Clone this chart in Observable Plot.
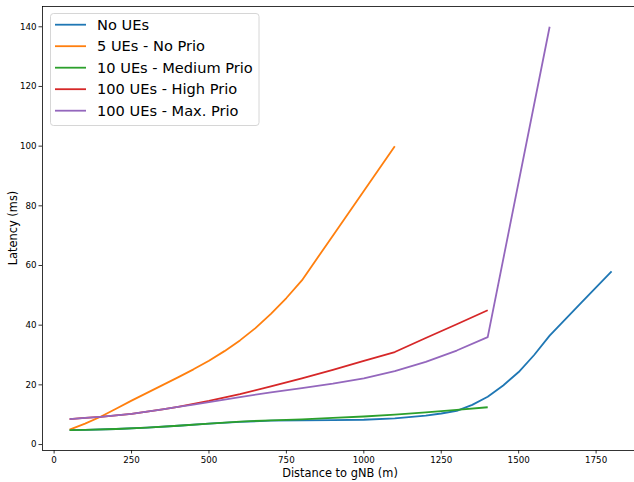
<!DOCTYPE html>
<html>
<head>
<meta charset="utf-8">
<script src="https://cdn.jsdelivr.net/npm/d3@7"></script>
<script src="https://cdn.jsdelivr.net/npm/@observablehq/plot@0.6"></script>
<style>
  html, body { margin: 0; padding: 0; background: white; }
  #chart { width: 634px; height: 482px; }
</style>
</head>
<body>
<div id="chart"></div>
<script>
// ---- Data ----
const seriesNames = ["No UEs", "5 UEs - No Prio", "10 UEs - Medium Prio", "100 UEs - High Prio", "100 UEs - Max. Prio"];
const seriesColors = ["#1f77b4", "#ff7f0e", "#2ca02c", "#d62728", "#9467bd"];

const noUEsX = [50, 100, 200, 300, 400, 500, 600, 700, 800, 900, 1000, 1100, 1200, 1250, 1300, 1350, 1400, 1450, 1500, 1550, 1600, 1700, 1800];
const noUEsY = [4.8, 4.9, 5.2, 5.7, 6.3, 7.0, 7.6, 8.0, 8.1, 8.2, 8.3, 8.8, 9.7, 10.4, 11.3, 13.3, 16.0, 19.8, 24.3, 30.0, 36.5, 47.3, 58.0];

const ue5X = [50, 100, 150, 200, 250, 300, 350, 400, 450, 500, 550, 600, 650, 700, 750, 800, 900, 1000, 1100];
const ue5Y = [5.0, 7.0, 9.3, 12.0, 14.7, 17.3, 19.9, 22.5, 25.2, 28.1, 31.3, 34.9, 39.0, 43.8, 49.1, 55.0, 70.0, 85.0, 100.0];

const ue10X = [50, 100, 200, 300, 400, 500, 600, 700, 800, 900, 1000, 1100, 1200, 1300, 1400];
const ue10Y = [4.8, 4.9, 5.2, 5.7, 6.3, 7.0, 7.7, 8.1, 8.4, 8.9, 9.4, 10.0, 10.8, 11.6, 12.5];

const ue100HighX = [50, 100, 150, 200, 250, 300, 350, 400, 450, 500, 600, 700, 800, 900, 1000, 1100, 1200, 1300, 1400];
const ue100HighY = [8.5, 8.9, 9.3, 9.8, 10.3, 11.0, 11.8, 12.6, 13.6, 14.6, 16.9, 19.5, 22.2, 25.0, 28.0, 31.0, 35.7, 40.3, 45.0];

const ue100MaxX = [50, 100, 150, 200, 250, 300, 350, 400, 450, 500, 600, 700, 800, 900, 1000, 1100, 1200, 1300, 1400, 1600];
const ue100MaxY = [8.5, 8.9, 9.3, 9.8, 10.3, 11.0, 11.8, 12.6, 13.4, 14.2, 15.9, 17.5, 18.9, 20.4, 22.2, 24.6, 27.7, 31.5, 36.0, 140.0];

const xTicks = [0, 250, 500, 750, 1000, 1250, 1500, 1750];
const yTicks = [0, 20, 40, 60, 80, 100, 120, 140];
const xDomain = [-37.5, 1874];
const yDomain = [-2, 146.8];
const xLabel = "Distance to gNB (m)";
const yLabel = "Latency (ms)";

// ---- Build tables ----
const seriesXs = [noUEsX, ue5X, ue10X, ue100HighX, ue100MaxX];
const seriesYs = [noUEsY, ue5Y, ue10Y, ue100HighY, ue100MaxY];
const tables = seriesNames.map((name, i) =>
  seriesXs[i].map((x, j) => ({series: name, x, y: seriesYs[i][j]}))
);

const W = 634, H = 482;
const mL = 42, mR = 0, mT = 6, mB = 32;

const chart = Plot.plot({
  width: W,
  height: H,
  marginLeft: mL,
  marginRight: mR,
  marginTop: mT,
  marginBottom: mB,
  style: {fontFamily: "'DejaVu Sans', sans-serif", fontSize: "8.7px", color: "black", background: "white"},
  x: {domain: xDomain},
  y: {domain: yDomain},
  color: {domain: seriesNames, range: seriesColors},
  marks: [
    ...tables.map(t => Plot.line(t, {x: "x", y: "y", stroke: "series", strokeWidth: 1.8, strokeLinejoin: "round", strokeLinecap: "butt"})),
    Plot.axisX(xTicks, {tickSize: 3.5, tickPadding: 2.5, label: null, strokeWidth: 0.8, tickFormat: d => String(d)}),
    Plot.axisY(yTicks, {tickSize: 3.5, tickPadding: 2.5, label: null, strokeWidth: 0.8, tickFormat: d => String(d)}),
    Plot.ruleX([xDomain[0]], {stroke: "black", strokeWidth: 0.8}),
    Plot.ruleY([yDomain[0], yDomain[1]], {stroke: "black", strokeWidth: 0.8})
  ]
});

document.getElementById("chart").appendChild(chart);

// ---- Axis labels and legend ----
const svg = d3.select(chart);
svg.append("text")
  .attr("x", (mL + 638) / 2)
  .attr("y", 477)
  .attr("text-anchor", "middle")
  .attr("font-size", "11.4px")
  .attr("fill", "black")
  .text(xLabel);
svg.append("text")
  .attr("transform", `translate(16.7, ${(mT + H - mB) / 2}) rotate(-90)`)
  .attr("text-anchor", "middle")
  .attr("font-size", "11.4px")
  .attr("fill", "black")
  .text(yLabel);

const lg = svg.append("g").attr("text-anchor", "start");
lg.append("rect")
  .attr("x", 50.5).attr("y", 13.5)
  .attr("width", 208.5).attr("height", 112)
  .attr("rx", 3)
  .attr("fill", "white").attr("fill-opacity", 0.8)
  .attr("stroke", "#cccccc").attr("stroke-width", 0.8);
seriesNames.forEach((name, i) => {
  const cy = 24.7 + i * 21.5;
  lg.append("line")
    .attr("x1", 55).attr("x2", 86)
    .attr("y1", cy).attr("y2", cy)
    .attr("stroke", seriesColors[i]).attr("stroke-width", 1.8);
  lg.append("text")
    .attr("x", 97).attr("y", cy)
    .attr("dy", "0.36em")
    .attr("text-anchor", "start")
    .attr("font-size", "14.6px")
    .attr("fill", "black")
    .text(name);
});
</script>
</body>
</html>
